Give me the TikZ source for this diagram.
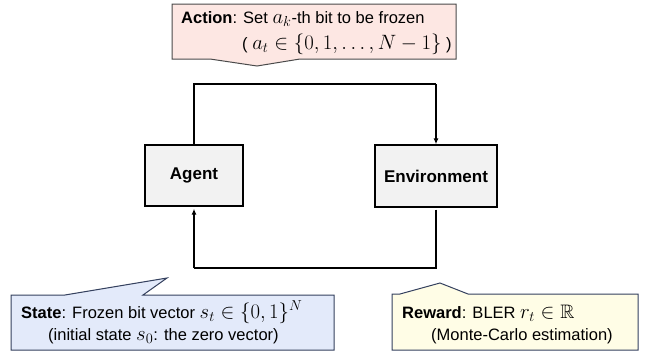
\documentclass[tikz,border=0pt]{standalone}
\usepackage{fontspec}
\setmainfont{Liberation Sans}
\usepackage{amssymb}
\usetikzlibrary{arrows.meta}
\definecolor{boxfill}{HTML}{F2F2F2}
\definecolor{actfill}{HTML}{FDE7E3}
\definecolor{actline}{HTML}{4A4A4A}
\definecolor{stfill}{HTML}{E3EAFA}
\definecolor{stline}{HTML}{34405E}
\definecolor{rwfill}{HTML}{FFFDE6}
\definecolor{rwline}{HTML}{34405E}
\newcommand\bigmath[1]{{\fontsize{19.5}{22}\selectfont$#1$}}
\tikzset{
  blockbox/.style={draw=black, line width=1.3pt, fill=boxfill, inner sep=0pt,
    font=\fontsize{17}{20}\selectfont\bfseries},
  flow/.style={draw=black, line width=1.2pt, -{Latex[length=6pt,width=5pt]}},
  plainline/.style={draw=black, line width=1.2pt},
  calltext/.style={anchor=base west, inner sep=0pt, font=\fontsize{16.5}{20}\selectfont},
  callshape/.style={line width=1pt, line join=miter}
}
\begin{document}
\begin{tikzpicture}[x=1pt,y=-1pt]
\useasboundingbox (0,0) rectangle (646,351);

% blocks
\node[blockbox, minimum width=98pt, minimum height=61pt] (agent) at (194,175.5) {Agent};
\node[blockbox, minimum width=122pt, minimum height=62pt] (env) at (436,176) {Environment};

% connectors
\coordinate (tl) at (194,84);
\coordinate (tr) at (436,84);
\coordinate (br) at (436,268);
\coordinate (bl) at (194,268);
\draw[plainline] (agent.north) -- (tl) -- (tr);
\draw[flow] (tr) -- (env.north);
\draw[plainline] ([yshift=-2pt]env.south) -- (br) -- (bl);
\draw[flow, shorten >=2pt] (bl) -- (agent.south);

% Action callout
\draw[callshape, draw=actline, fill=actfill]
  (172,4) -- (456,4) -- (456,59) -- (300,59) -- (257,66) -- (210,59) -- (172,59) -- cycle;
\node[calltext] (act1) at (181,23) {\textbf{Action}: Set \bigmath{a_k}-th bit to be frozen};
\node[calltext] (act2) at (242,49) {( \bigmath{a_t \in \{0,1,\dots,N-1\}} )};

% State callout
\draw[callshape, draw=stline, fill=stfill]
  (11,295) -- (65,295) -- (167,278) -- (143,295) -- (334,295) -- (334,350) -- (11,350) -- cycle;
\node[calltext] (st1) at (21,318) {\textbf{State}: Frozen bit vector \bigmath{s_t \in \{0,1\}^N}};
\node[calltext] (st2) at (48,340) {(initial state \bigmath{s_0}: the zero vector)};

% Reward callout
\draw[callshape, draw=rwline, fill=rwfill]
  (392,294) -- (400,294) -- (440,283) -- (468,294) -- (638,294) -- (638,350) -- (392,350) -- cycle;
\node[calltext] (rw1) at (402,318) {\textbf{Reward}: BLER \bigmath{r_t \in \mathbb{R}}};
\node[calltext] (rw2) at (431,340) {(Monte-Carlo estimation)};
\end{tikzpicture}
\end{document}
